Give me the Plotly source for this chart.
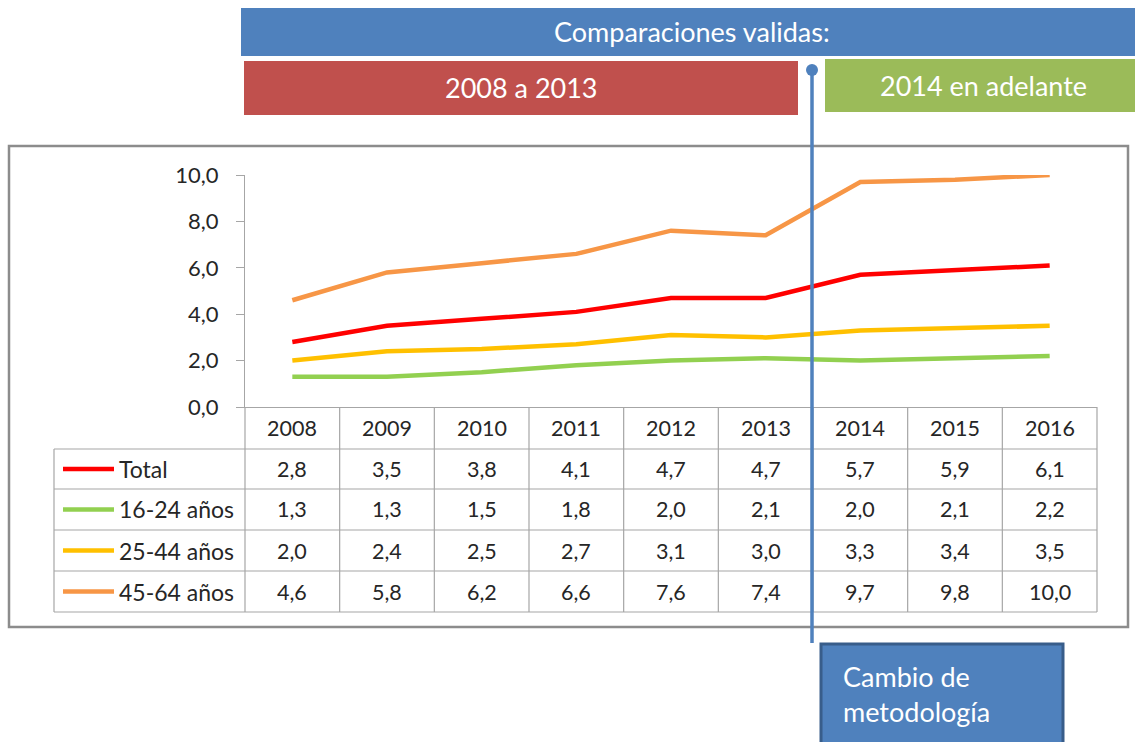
import plotly.graph_objects as go

years = ["2008", "2009", "2010", "2011", "2012", "2013", "2014", "2015", "2016"]
series_names = ["Total", "16-24 años", "25-44 años", "45-64 años"]
total = [2.8, 3.5, 3.8, 4.1, 4.7, 4.7, 5.7, 5.9, 6.1]
age_16_24 = [1.3, 1.3, 1.5, 1.8, 2.0, 2.1, 2.0, 2.1, 2.2]
age_25_44 = [2.0, 2.4, 2.5, 2.7, 3.1, 3.0, 3.3, 3.4, 3.5]
age_45_64 = [4.6, 5.8, 6.2, 6.6, 7.6, 7.4, 9.7, 9.8, 10.0]
series_values = [total, age_16_24, age_25_44, age_45_64]
colors = ["#FF0000", "#92D050", "#FFC000", "#F79646"]

W, H = 1135, 742
FONT = "Lato"
GRID = "#A6A6A6"
TXT = "#262626"


def px(x):
    return x / W


def py(y):
    return 1 - y / H


def label(x, y, text, size, color=TXT, xanchor="center", align="center"):
    return dict(x=px(x), y=py(y), xref="paper", yref="paper", text=text, showarrow=False,
                xanchor=xanchor, yanchor="middle", align=align,
                font=dict(family=FONT, size=size, color=color))


fig = go.Figure()
for name, vals, col in zip(series_names, series_values, colors):
    fig.add_trace(go.Scatter(x=years, y=vals, name=name, mode="lines",
                             line=dict(color=col, width=4.5), showlegend=False))

shapes = []
annotations = []

# outer chart frame
shapes.append(dict(type="rect", xref="paper", yref="paper", x0=px(9), x1=px(1128),
                   y0=py(627), y1=py(146), line=dict(color="#8C8C8C", width=2.5)))

# data table grid
col_l, col_r = 245, 1097
row_edges = [407, 449, 489, 530, 571, 612]
left_edge = 54
ncol = len(years)
cw = (col_r - col_l) / ncol
for i in range(ncol + 1):
    x = col_l + i * cw
    shapes.append(dict(type="line", xref="paper", yref="paper", x0=px(x), x1=px(x),
                       y0=py(row_edges[0]), y1=py(row_edges[-1]), line=dict(color=GRID, width=1.2)))
shapes.append(dict(type="line", xref="paper", yref="paper", x0=px(left_edge), x1=px(left_edge),
                   y0=py(row_edges[1]), y1=py(row_edges[-1]), line=dict(color=GRID, width=1.2)))
for y in row_edges[1:]:
    shapes.append(dict(type="line", xref="paper", yref="paper", x0=px(left_edge), x1=px(col_r),
                       y0=py(y), y1=py(y), line=dict(color=GRID, width=1.2)))

# header years
for i, yr in enumerate(years):
    annotations.append(label(col_l + (i + 0.5) * cw, (row_edges[0] + row_edges[1]) / 2, yr, 21.5))

# rows
for r, (name, vals, col) in enumerate(zip(series_names, series_values, colors)):
    yc = (row_edges[r + 1] + row_edges[r + 2]) / 2
    shapes.append(dict(type="line", xref="paper", yref="paper", x0=px(63), x1=px(114),
                       y0=py(yc), y1=py(yc), line=dict(color=col, width=4.5)))
    annotations.append(label(117, yc, name, 23, xanchor="left"))
    for i, v in enumerate(vals):
        annotations.append(label(col_l + (i + 0.5) * cw, yc, f"{v:.1f}".replace(".", ","), 21.5))

# banners
banners = [
    (241, 1135, 8, 56, 692, "#4F81BD", "Comparaciones validas:"),
    (244, 798, 61, 115, 521, "#C0504D", "2008 a 2013"),
    (825, 1135, 59, 112, 983, "#9BBB59", "2014 en adelante"),
]
for x0, x1, y0, y1, xt, col, txt in banners:
    shapes.append(dict(type="rect", xref="paper", yref="paper", x0=px(x0), x1=px(x1),
                       y0=py(y1), y1=py(y0), fillcolor=col, line=dict(width=0)))
    annotations.append(label(xt, (y0 + y1) / 2, txt, 27, color="white"))

# methodology change marker
shapes.append(dict(type="line", xref="paper", yref="paper", x0=px(812), x1=px(812),
                   y0=py(643), y1=py(70), line=dict(color="#4F81BD", width=3.5)))
shapes.append(dict(type="circle", xref="paper", yref="paper", x0=px(806), x1=px(818),
                   y0=py(76), y1=py(64), fillcolor="#4F81BD", line=dict(width=0)))
shapes.append(dict(type="rect", xref="paper", yref="paper", x0=px(821), x1=px(1063),
                   y0=py(745), y1=py(644), fillcolor="#4F81BD",
                   line=dict(color="#385D8A", width=3)))
annotations.append(label(841, 694, "Cambio de<br>metodología", 27, color="white",
                         xanchor="left", align="left"))

fig.update_layout(
    width=W, height=H, autosize=False,
    margin=dict(l=0, r=0, t=0, b=0, pad=0, autoexpand=False),
    paper_bgcolor="white", plot_bgcolor="white",
    separators=", ",
    shapes=shapes, annotations=annotations,
    xaxis=dict(domain=[px(col_l), px(col_r)], range=[-0.5, 8.5], showticklabels=False,
               showgrid=False, zeroline=False, showline=True, linecolor=GRID, linewidth=1.2,
               ticks="", automargin=False, fixedrange=True),
    yaxis=dict(domain=[py(407), py(175)], range=[0, 10], dtick=2, tickformat=".1f",
               showgrid=False, zeroline=False, showline=True, linecolor=GRID, linewidth=1.2,
               ticks="outside", ticklen=8, tickcolor=GRID, tickwidth=1.2, automargin=False,
               ticklabelstandoff=13,
               tickfont=dict(family=FONT, size=22, color=TXT), fixedrange=True),
)

fig.write_html("out.html", config={"displayModeBar": False},
               post_script="document.body.style.margin='0';")
